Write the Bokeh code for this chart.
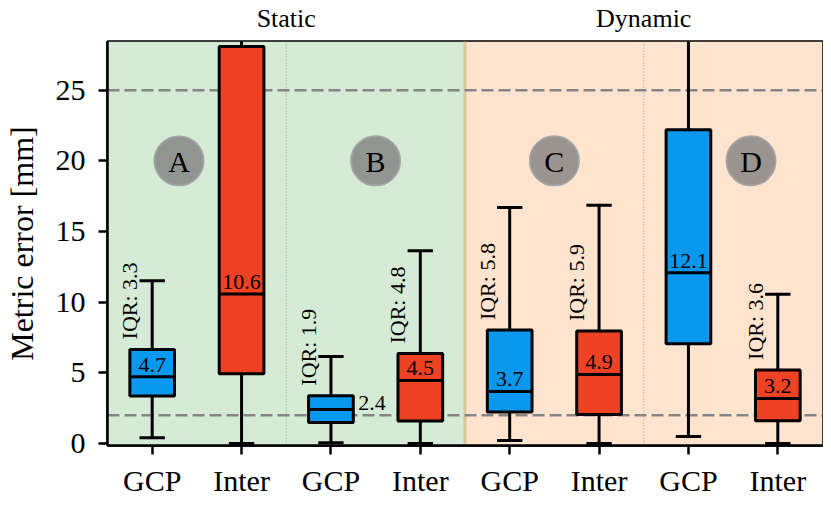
import math
from bokeh.plotting import figure
from bokeh.models import (FixedTicker, LinearAxis, Range1d, BoxAnnotation, Span,
                          ColumnDataSource)
from bokeh.core.properties import value
from bokeh.embed import file_html
from bokeh.resources import INLINE

# ---------------- data ----------------
categories = ["GCP", "Inter", "GCP", "Inter", "GCP", "Inter", "GCP", "Inter"]
positions = [1, 2, 3, 4, 5, 6, 7, 8]
q1 = [3.35, 4.93, 1.48, 1.58, 2.22, 2.05, 7.05, 1.60]
median = [4.72, 10.58, 2.40, 4.46, 3.68, 4.88, 12.08, 3.18]
q3 = [6.65, 28.10, 3.38, 6.36, 8.02, 7.95, 22.20, 5.20]
whisker_low = [0.40, 0.00, 0.05, 0.00, 0.20, 0.00, 0.49, 0.00]
whisker_high = [11.52, 45.0, 6.15, 13.64, 16.70, 16.85, 40.0, 10.55]
groups = ["Static", "Dynamic"]
group_centers = [2.5, 6.5]
panel_letters = ["A", "B", "C", "D"]
panel_x = [1.3, 3.5, 5.5, 7.7]
panel_y = [20, 20, 20, 20]
ref_lines = [25, 2]
y_ticks = [0, 5, 10, 15, 20, 25]

BLUE = "#0a98ee"
RED = "#ef4123"
FONT = "Liberation Serif"
YMAX = 28.45

colors = [BLUE if c == "GCP" else RED for c in categories]

p = figure(frame_width=715, frame_height=404,
           x_range=Range1d(0.5, 8.5), y_range=Range1d(-0.15, YMAX),
           output_backend="svg", toolbar_location=None,
           min_border_left=105, min_border_top=38, min_border_right=1,
           min_border_bottom=60)
p.grid.visible = False
p.outline_line_color = "black"
p.outline_line_width = 2.5
p.background_fill_color = "white"
p.border_fill_color = "white"

# backgrounds
p.add_layout(BoxAnnotation(left=0.5, right=4.5, fill_color="#d5ebd5", fill_alpha=1.0,
                           line_color=None, level="underlay"))
p.add_layout(BoxAnnotation(left=4.5, right=8.5, fill_color="#fee3ce", fill_alpha=1.0,
                           line_color=None, level="underlay"))
p.add_layout(Span(location=4.5, dimension="height", line_color="#d9c99b",
                  line_width=3, level="underlay"))
for xc in group_centers:
    p.add_layout(Span(location=xc, dimension="height", line_color="#999999",
                      line_width=1, line_dash="1 2", level="underlay"))
for yl in ref_lines:
    p.add_layout(Span(location=yl, dimension="width", line_color="#858585",
                      line_width=2.5, line_dash="12 5", level="underlay"))

src = ColumnDataSource(dict(
    x=positions, q1=q1, med=median, q3=q3, lo=whisker_low, hi=whisker_high,
    color=colors,
    xl=[x - 0.25 for x in positions], xr=[x + 0.25 for x in positions],
    cl=[x - 0.125 for x in positions], cr=[x + 0.125 for x in positions],
))

# whiskers
p.segment(x0="x", y0="q3", x1="x", y1="hi", source=src, line_color="black", line_width=3)
p.segment(x0="x", y0="q1", x1="x", y1="lo", source=src, line_color="black", line_width=3)
# caps
p.segment(x0="cl", y0="hi", x1="cr", y1="hi", source=src, line_color="black",
          line_width=3, line_cap="square")
p.segment(x0="cl", y0="lo", x1="cr", y1="lo", source=src, line_color="black",
          line_width=3, line_cap="square")
# boxes
p.vbar(x="x", width=0.5, bottom="q1", top="q3", source=src, fill_color="color",
       line_color="black", line_width=3)
# medians
p.segment(x0="xl", y0="med", x1="xr", y1="med", source=src, line_color="black", line_width=3)

# median labels
in_x, in_y, in_t, out_x, out_y, out_t = [], [], [], [], [], []
for x, m, top in zip(positions, median, q3):
    if top - m > 1.5:
        in_x.append(x); in_y.append(m); in_t.append(f"{m:.1f}")
    else:
        out_x.append(x + 0.25); out_y.append(m); out_t.append(f"{m:.1f}")
p.text(x=in_x, y=in_y, text=in_t, text_align="center", text_baseline="bottom",
       y_offset=-5, text_font=value(FONT), text_font_size="22px", text_color="black")
p.text(x=out_x, y=out_y, text=out_t, text_align="left", text_baseline="bottom",
       x_offset=5, y_offset=1, text_font=value(FONT), text_font_size="22px",
       text_color="black")

# IQR labels
iq_x, iq_y, iq_t = [], [], []
for x, a, b, h in zip(positions, q1, q3, whisker_high):
    if h <= YMAX:
        iq_x.append(x - 0.25); iq_y.append(b); iq_t.append(f"IQR: {b - a:.1f}")
p.text(x=iq_x, y=iq_y, text=iq_t, angle=math.pi / 2, text_align="left",
       text_baseline="middle", y_offset=-10, text_font=value(FONT),
       text_font_size="22px", text_color="black")

# panel circles
p.scatter(x=panel_x, y=panel_y, size=49, fill_color="#808080", fill_alpha=0.8,
          line_color="#a0a0a0", line_alpha=0.9, line_width=2)
p.text(x=panel_x, y=panel_y, text=panel_letters, text_align="center",
       text_baseline="middle", y_offset=1, text_font=value(FONT),
       text_font_size="30px", text_color="black")

# axes
xa = p.xaxis[0]
xa.ticker = FixedTicker(ticks=positions)
xa.major_label_overrides = {pos: c for pos, c in zip(positions, categories)}
ya = p.yaxis[0]
ya.ticker = FixedTicker(ticks=y_ticks)
ya.axis_label = "Metric error [mm]"
for ax in (xa, ya):
    ax.axis_line_width = 2.5
    ax.major_tick_line_width = 2.5
    ax.major_tick_out = 9
    ax.major_tick_in = 0
    ax.minor_tick_out = 0
    ax.minor_tick_in = 0
    ax.major_label_text_font = FONT
    ax.major_label_text_font_size = "30px"
    ax.major_label_text_color = "black"
xa.major_label_standoff = 9
ya.major_label_standoff = 13
ya.axis_label_text_font = FONT
ya.axis_label_text_font_size = "32px"
ya.axis_label_text_font_style = "normal"
ya.axis_label_text_color = "black"
ya.axis_label_standoff = 13

top_ax = LinearAxis(ticker=FixedTicker(ticks=group_centers),
                    major_label_overrides={c: g for c, g in zip(group_centers, groups)})
top_ax.axis_line_color = None
top_ax.major_tick_line_color = None
top_ax.major_tick_out = 0
top_ax.major_tick_in = 0
top_ax.minor_tick_out = 0
top_ax.minor_tick_in = 0
top_ax.major_label_text_font = FONT
top_ax.major_label_text_font_size = "26px"
top_ax.major_label_text_color = "black"
top_ax.major_label_standoff = 9
p.add_layout(top_ax, "above")

open("out.html", "w").write(file_html(p, INLINE))
